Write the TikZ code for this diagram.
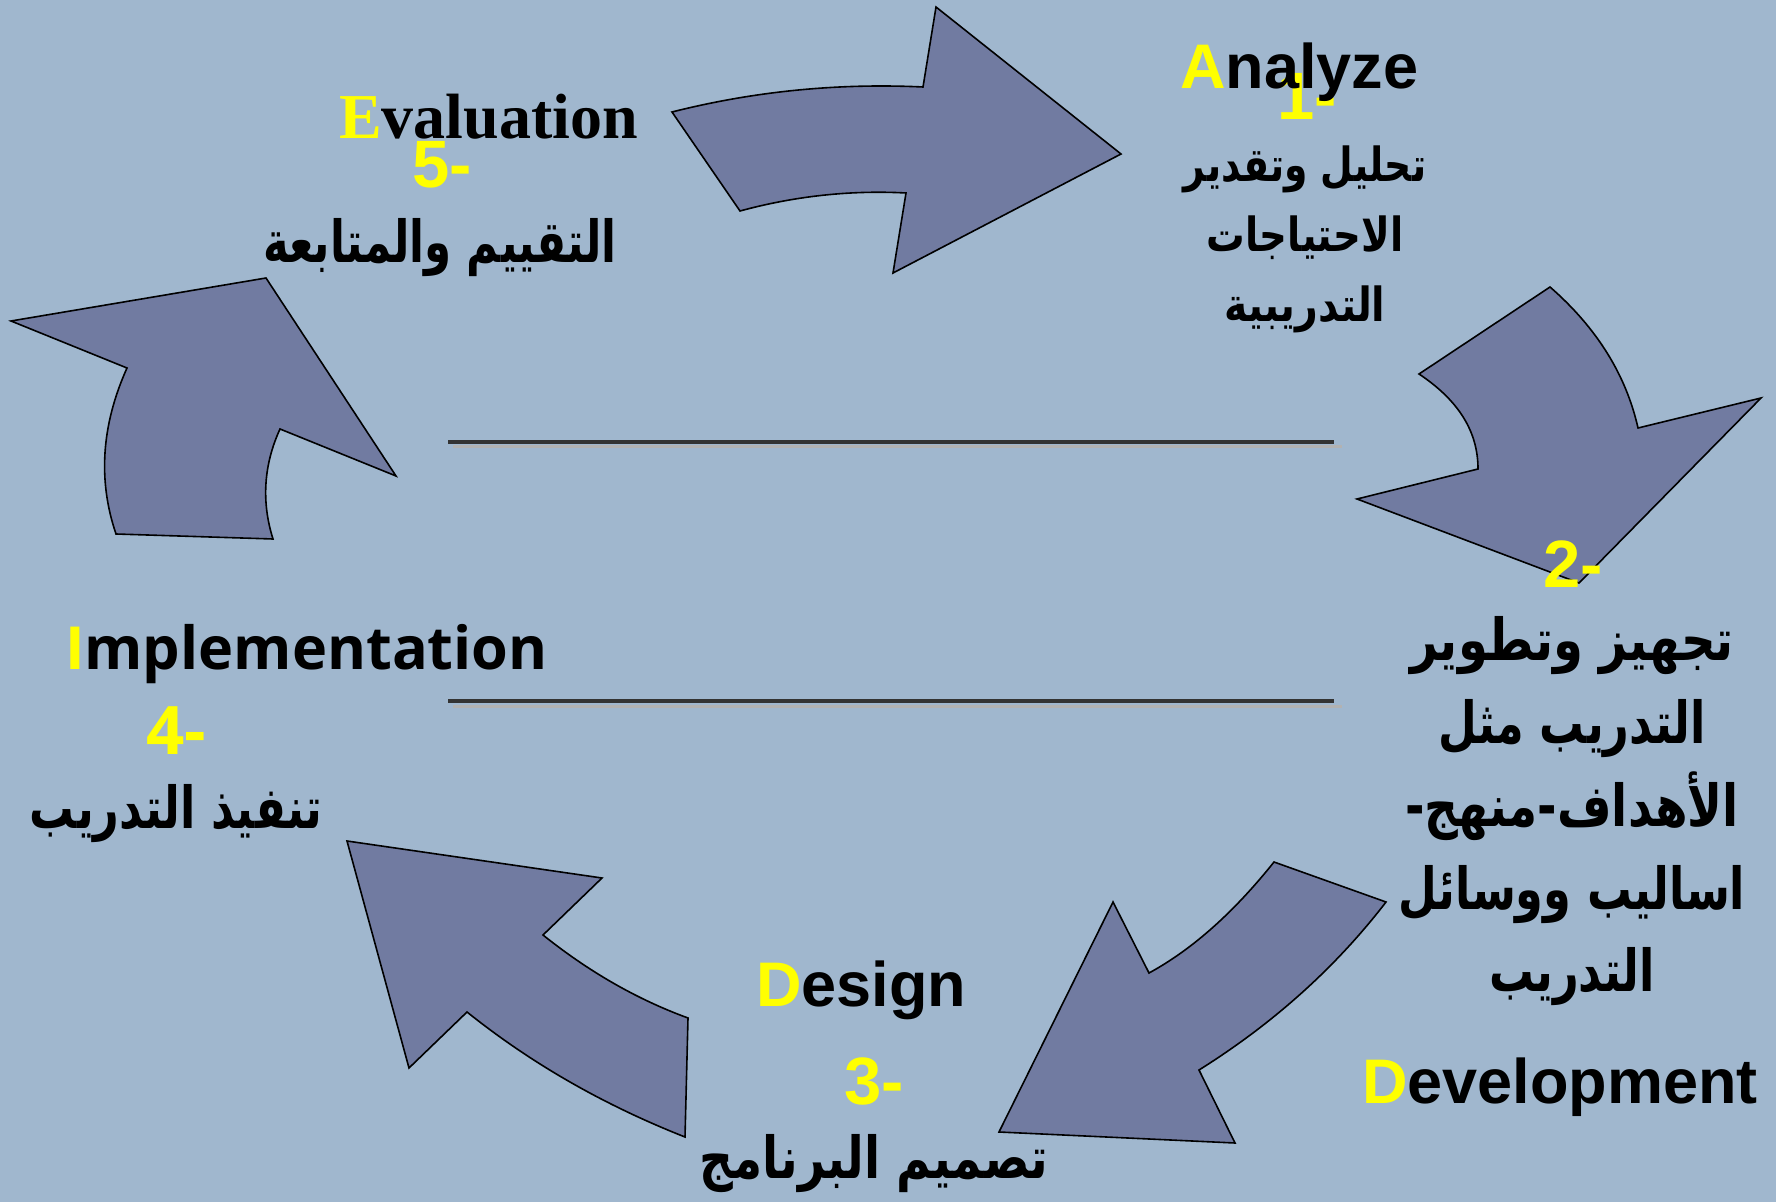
\documentclass[tikz,border=0pt]{standalone}
\usepackage{graphicx}
\usepackage{fontspec}
\setmainfont{Liberation Sans}
\newfontfamily\arabicfont[Script=Arabic]{DejaVu Sans}
\newfontfamily\serifbf{Liberation Serif}
\newfontfamily\opensans{Open Sans}
\TeXXeTstate=1
\definecolor{bgblue}{HTML}{A0B7CE}
\definecolor{arrowfill}{HTML}{717BA1}
\definecolor{linedark}{HTML}{333333}
\definecolor{lineshadow}{HTML}{B2B2B2}
\definecolor{ylw}{HTML}{FFFF00}
\begin{document}
\begin{tikzpicture}[x=0.5pt,y=-0.5pt,
  cyc/.style={fill=arrowfill, draw=black, line width=0.8pt, line join=miter},
  lbl/.style={inner sep=0pt, outer sep=0pt},
  latinlbl/.style={lbl, anchor=base west, font=\fontsize{31.5}{36}\selectfont\bfseries},
  numlbl/.style={lbl, anchor=center, text=ylw, font=\fontsize{33.5}{38}\selectfont\bfseries},
  arlbl/.style={lbl, anchor=base, font=\arabicfont\fontsize{29}{32}\selectfont\bfseries},
  arsmall/.style={lbl, anchor=base, font=\arabicfont\fontsize{23.5}{27}\selectfont\bfseries},
  rule/.style={linedark, line width=2pt},
  ruleshadow/.style={lineshadow, line width=1.5pt}]
\useasboundingbox (0,0) rectangle (1776,1202);
\fill[bgblue] (0,0) rectangle (1776,1202);
% horizontal rules
\draw[ruleshadow] (453,447) -- (1342,447);
\draw[rule] (448,442) -- (1334,442);
\draw[ruleshadow] (453,706) -- (1342,706);
\draw[rule] (448,701) -- (1334,701);
% curved arrows
\draw[cyc] (672,112) .. controls (755,91) and (839,83) .. (923,87) -- (936,7) -- (1121,154) -- (893,273) -- (906,193) .. controls (851,190) and (795,196) .. (740,211) -- cycle;
\draw[cyc] (1550,287) .. controls (1597,328) and (1626,375) .. (1638,428) -- (1761,398) -- (1579,583) -- (1357,499) -- (1478,469) .. controls (1478,431) and (1458,400) .. (1419,374) -- cycle;
\draw[cyc] (1386,902) .. controls (1336,967) and (1274,1023) .. (1199,1070) -- (1235,1143) -- (999,1132) -- (1113,902) -- (1149,973) .. controls (1193,949) and (1234,912) .. (1274,862) -- cycle;
\draw[cyc] (347,841) -- (602,878) -- (543,935) .. controls (588,971) and (636,999) .. (688,1018) -- (685,1137) .. controls (604,1105) and (532,1064) .. (467,1012) -- (409,1068) -- cycle;
\draw[cyc] (11,321) -- (266,278) -- (396,476) -- (280,429) .. controls (264,464) and (261,501) .. (273,539) -- (116,534) .. controls (98,481) and (101,426) .. (127,368) -- cycle;
% 1 Analyze
\node[numlbl] (n1) at (1307,96) {1-};
\node[latinlbl] (analyze) at (1180,89) {\textcolor{ylw}{A}nalyze};
\node[arsmall] (a1) at (1305,182) {\scalebox{0.80}[1]{\beginR تحليل وتقدير\endR}};
\node[arsmall] (a2) at (1305,252) {\scalebox{0.82}[1]{\beginR الاحتياجات\endR}};
\node[arsmall] (a3) at (1305,322) {\scalebox{0.84}[1]{\beginR التدريبية\endR}};
% 2 Development
\node[numlbl] (n2) at (1573,564) {2-};
\node[arlbl] (d1) at (1572,661) {\scalebox{0.83}[1]{\beginR تجهيز وتطوير\endR}};
\node[arlbl] (d2) at (1572,743) {\scalebox{0.77}[1]{\beginR التدريب مثل\endR}};
\node[arlbl] (d3) at (1572,826) {\scalebox{0.81}[1]{\beginR الأهداف-منهج-\endR}};
\node[arlbl] (d4) at (1572,909) {\scalebox{0.77}[1]{\beginR اساليب ووسائل\endR}};
\node[arlbl] (d5) at (1572,991) {\scalebox{0.77}[1]{\beginR التدريب\endR}};
\node[latinlbl] (development) at (1362,1103) {\textcolor{ylw}{D}evelopment};
% 3 Design
\node[latinlbl] (design) at (756,1006) {\textcolor{ylw}{D}esign};
\node[numlbl] (n3) at (874,1081) {3-};
\node[arlbl] (s1) at (874,1178) {\scalebox{0.81}[1]{\beginR تصميم البرنامج\endR}};
% 4 Implementation
\node[lbl, anchor=base west, font=\opensans\fontsize{29.7}{34}\selectfont\bfseries] (implementation) at (65,669) {\textcolor{ylw}{I}mplementation};
\node[numlbl, font=\opensans\fontsize{33.5}{38}\selectfont\bfseries] (n4) at (176,731) {4-};
\node[arlbl] (i1) at (176,828) {\scalebox{0.77}[1]{\beginR تنفيذ التدريب\endR}};
% 5 Evaluation
\node[lbl, anchor=base west, font=\serifbf\fontsize{32}{36}\selectfont\bfseries] (evaluation) at (339,139) {\textcolor{ylw}{E}valuation};
\node[numlbl] (n5) at (442,165) {5-};
\node[arlbl] (e1) at (440,263) {\scalebox{0.75}[1]{\beginR التقييم والمتابعة\endR}};
\end{tikzpicture}
\end{document}
